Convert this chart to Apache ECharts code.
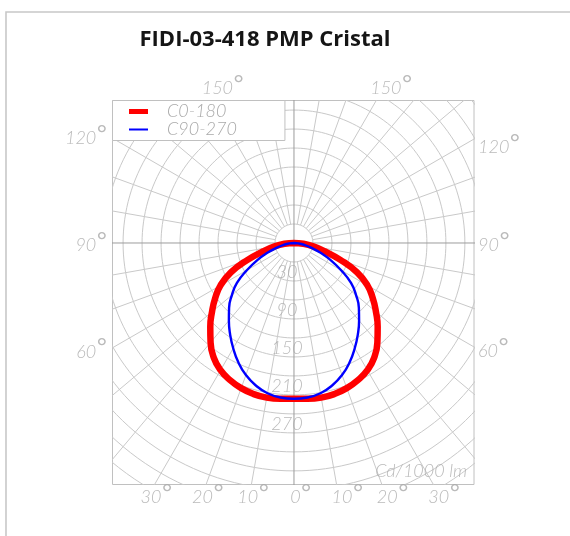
<!DOCTYPE html>
<html><head><meta charset="utf-8">
<script src="https://cdn.jsdelivr.net/npm/echarts@6/dist/echarts.min.js"></script>
<style>html,body{margin:0;padding:0;background:#fff;}#c{width:570px;height:536px;}</style>
</head><body><div id="c"></div>
<script>
// ---------- data ----------
const chartTitle = 'FIDI-03-418 PMP Cristal';
const gammaAngles = [0,5,10,15,20,25,30,35,40,45,50,55,60,65,70,75,80,85,90];
const c0_180  = [246,247,248,247,244,239,232,221,205,187,169,152,134,110,78,50,31,15,0];
const c90_270 = [246,245,241,233,222,208,192,176,160,145,128,110,86,64,44,28,16,7,0];
const legendNames = ['C0-180', 'C90-270'];
const ringValues = [30,60,90,120,150,180,210,240,270,300,330,360,390,420,450,480];
const ringLabelValues = [30,90,150,210,270];
const spokeStep = 10;
const bottomTicks = [-30,-20,-10,0,10,20,30];
const sideTicks = [60,90,120];
const topTicks = [150];
const unitLabel = 'Cd/1000 lm';

// ---------- layout ----------
const X_MIN = -286.7, X_MAX = 284.4, Y_MIN = -381.5, Y_MAX = 225.1;
const GRID = {left:112.5, top:100.5, width:361.5, height:384};
const FONT = 'Lato, "Liberation Sans", sans-serif';
const LBL = '#a9a9a9';

function pt(r, deg){ const t = deg*Math.PI/180; return [r*Math.sin(t), -r*Math.cos(t)]; }
const series = [];
const gridLine = (data, color, w) => ({type:'line', data, showSymbol:false, symbol:'none', silent:true,
  lineStyle:{color, width:w}, clip:true, z:1, animation:false});

ringValues.forEach(r => {
  const d = [];
  for (let a = 0; a <= 360; a += 2) d.push(pt(r, a));
  series.push(gridLine(d, '#c9c9c9', 1));
});
for (let a = 0; a < 360; a += spokeStep) {
  const main = a % 90 === 0;
  series.push(gridLine([pt(main ? 0 : ringValues[0], a), pt(700, a)], main ? '#9c9c9c' : '#c9c9c9', 1));
}

function curve(vals){
  const d = [];
  for (let i = gammaAngles.length-1; i >= 0; i--) d.push(pt(vals[i], -gammaAngles[i]));
  for (let i = 1; i < gammaAngles.length; i++) d.push(pt(vals[i], gammaAngles[i]));
  return d;
}
series.push({type:'line', name:legendNames[0], data:curve(c0_180), symbol:'none', showSymbol:false, smooth:0.5,
  lineStyle:{color:'#ff0000', width:6.5}, itemStyle:{color:'#ff0000'}, z:3, animation:false});
series.push({type:'line', name:legendNames[1], data:curve(c90_270), symbol:'none', showSymbol:false, smooth:0.5,
  lineStyle:{color:'#0000ff', width:2.4}, itemStyle:{color:'#0000ff'}, z:4, animation:false});

const rich = {
  a:{fontFamily:FONT, fontSize:18, fontStyle:'italic', fontWeight:300, color:LBL},
  d:{fontFamily:'"Liberation Sans", sans-serif', fontSize:28, fontWeight:300, color:LBL, padding:[0,0,4,0]}
};
const deg = n => '{a|' + n + '}{d|°}';
const rad = t => t*Math.PI/180;
const labels = [];
bottomTicks.forEach(t => {
  const x = -Y_MIN*Math.tan(rad(t));
  const dx = t < 0 ? 2 : (t > 0 ? 11 : 7);
  labels.push({value:[x, Y_MIN], name:deg(Math.abs(t)), label:{align:'center', offset:[dx, 13]}});
});
sideTicks.forEach(t => {
  const oy = t === 60 ? 4 : (t === 90 ? 2 : 0);
  const yl = t === 90 ? 0 : X_MIN/Math.tan(rad(t));
  const yr = t === 90 ? 0 : -X_MAX/Math.tan(rad(t));
  labels.push({value:[X_MIN, yl], name:deg(t), label:{align:'right', offset:[-5, oy]}});
  labels.push({value:[X_MAX, yr], name:deg(t), label:{align:'left', offset:[4, t===120?8:oy]}});
});
topTicks.forEach(t => {
  const x = Y_MAX*Math.tan(rad(180-t));
  labels.push({value:[-x, Y_MAX], name:deg(t), label:{align:'left', offset:[-10, -12]}});
  labels.push({value:[x, Y_MAX], name:deg(t), label:{align:'left', offset:[-6, -12]}});
});
series.push({type:'scatter', data:labels, symbolSize:1, itemStyle:{color:'rgba(0,0,0,0)'}, clip:false, silent:true, z:5,
  animation:false, label:{show:true, position:'inside', formatter:p => p.name, rich}});

series.push({type:'scatter', symbolSize:1, itemStyle:{color:'rgba(0,0,0,0)'}, clip:false, silent:true, z:5, animation:false,
  data:ringLabelValues.map(v => ({value:[0, -v], name:String(v)})),
  label:{show:true, position:'inside', offset:[-7, 10], formatter:p => p.name,
    fontFamily:FONT, fontSize:18, fontStyle:'italic', fontWeight:300, color:LBL}});
series.push({type:'scatter', symbolSize:1, itemStyle:{color:'rgba(0,0,0,0)'}, clip:false, silent:true, z:5, animation:false,
  data:[{value:[X_MAX, Y_MIN], name:unitLabel}],
  label:{show:true, position:'inside', align:'right', offset:[-7, -13], formatter:p => p.name,
    fontFamily:FONT, fontSize:18, fontStyle:'italic', fontWeight:300, color:LBL}});

const chart = echarts.init(document.getElementById('c'), null, {renderer:'canvas'});
chart.setOption({
  animation:false,
  backgroundColor:'#fff',
  graphic:[
    {type:'rect', shape:{x:6, y:12, width:700, height:700}, style:{fill:'none', stroke:'#c8c8c8', lineWidth:1.6}, silent:true, z:0},
    {type:'text', x:265, y:40, style:{text:chartTitle, fill:'#151515', font:'700 22px "Open Sans", Lato, sans-serif', align:'center', verticalAlign:'middle'}, silent:true}
  ],
  grid:{left:GRID.left, top:GRID.top, width:GRID.width, height:GRID.height, show:true, borderColor:'#c0c0c0', borderWidth:1, backgroundColor:'transparent', outerBoundsMode:'none'},
  xAxis:{type:'value', min:X_MIN, max:X_MAX, show:false},
  yAxis:{type:'value', min:Y_MIN, max:Y_MAX, show:false},
  legend:{left:GRID.left, top:GRID.top, orient:'vertical', itemWidth:19, itemHeight:6, itemGap:0,
    backgroundColor:'#fff', borderColor:'#c0c0c0', borderWidth:1, padding:[2, 48, 2, 14], selectedMode:false,
    data:[{name:legendNames[0], lineStyle:{width:5}, itemStyle:{opacity:0}}, {name:legendNames[1], lineStyle:{width:2}, itemStyle:{opacity:0}}],
    formatter:n => '{s|}{t|' + n + '}',
    textStyle:{rich:{s:{width:14}, t:{fontFamily:FONT, fontSize:18, fontStyle:'italic', fontWeight:300, color:LBL, lineHeight:16}}}},
  series
});
</script></body></html>
